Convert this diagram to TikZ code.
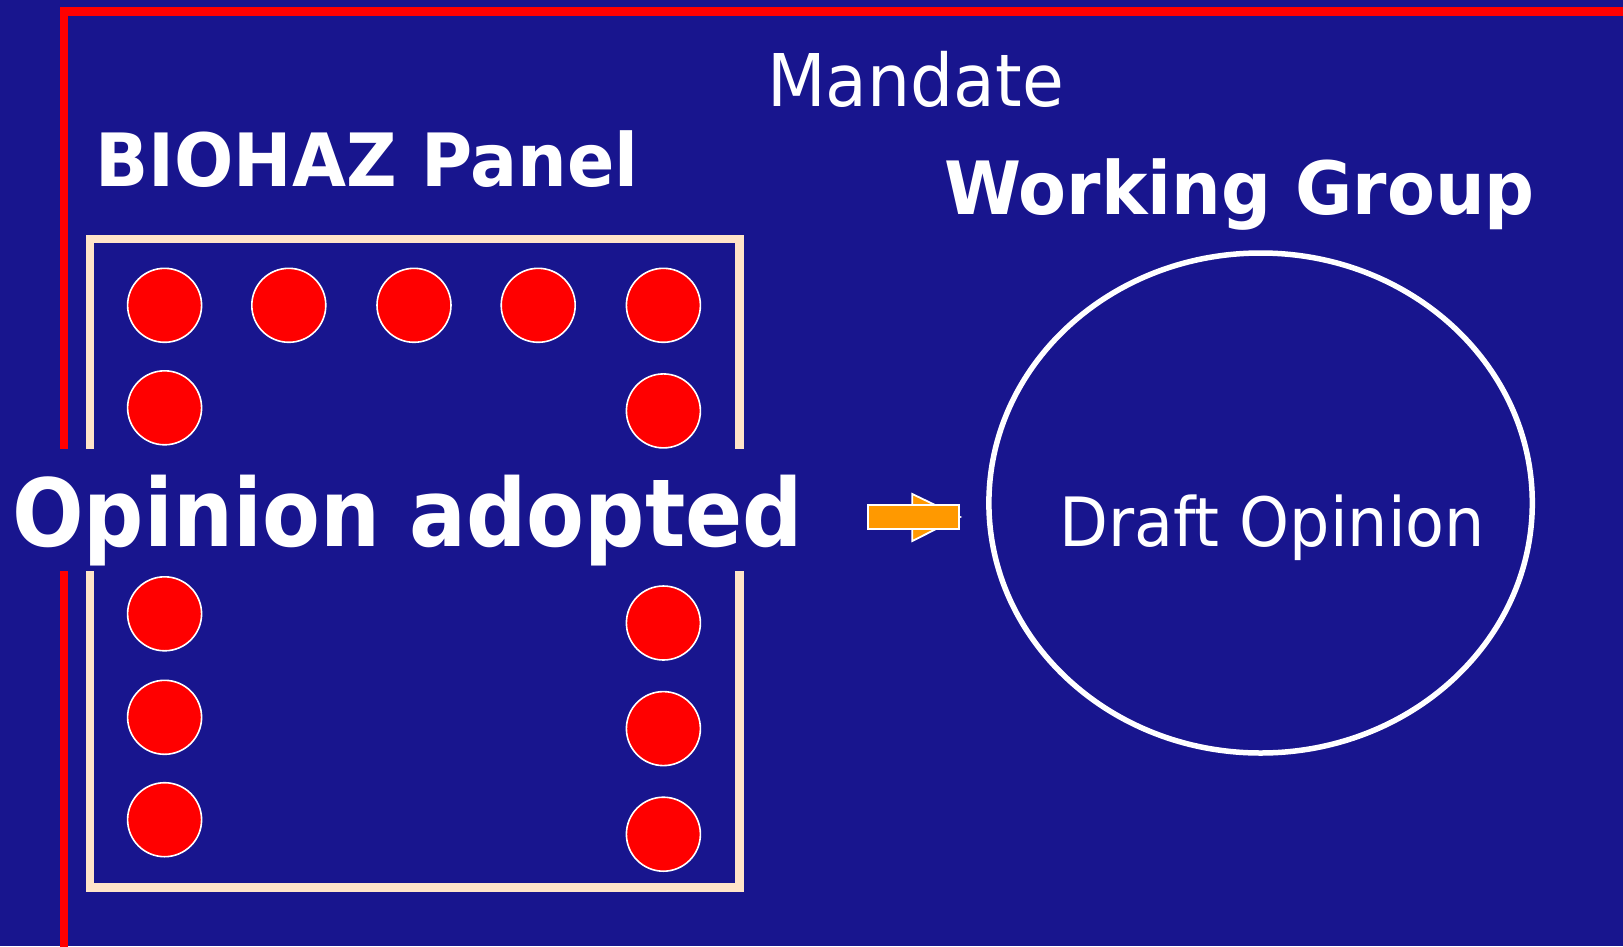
\documentclass[tikz,border=0pt]{standalone}
\usepackage{fontspec}
\setmainfont{DejaVu Sans}[FakeStretch=0.897]
\newfontfamily\headface{DejaVu Sans}[FakeStretch=0.95]
\newfontfamily\textface{DejaVu Sans}[FakeStretch=0.935]
\usetikzlibrary{shapes.geometric}
\definecolor{slide}{RGB}{24,21,142}
\definecolor{frame}{RGB}{255,0,0}
\definecolor{panelline}{RGB}{255,228,201}
\definecolor{arrowfill}{RGB}{255,153,0}
\tikzset{
  member/.style={circle, fill=frame, draw=white, line width=1.6pt, minimum size=74pt, inner sep=0pt},
  heading/.style={text=white, font=\headface\bfseries\fontsize{73.5}{80}\selectfont, anchor=base west, inner sep=0pt},
  plain/.style={text=white, font=\textface\fontsize{70}{78}\selectfont, anchor=base west, inner sep=0pt},
}
\begin{document}
\begin{tikzpicture}[x=1pt, y=-1pt]
  \useasboundingbox (0,0) rectangle (1623,946);
  \clip (0,0) rectangle (1623,946);
  \fill[slide] (0,0) rectangle (1623,946);

  % outer frame
  \draw[frame, line width=8.5pt] (64,11.5) rectangle (1700,951);

  % panel box
  \draw[panelline, line width=8.8pt] (90,239) rectangle (739.5,887.5);

  % panel members
  \foreach \n/\x/\y in {a/164.6/305.3, b/288.8/305.3, c/414/305.3, d/538.2/305.3, e/663.4/305.3,
                       f/164.6/407.8, g/663.4/410.9,
                       h/164.6/613.8, i/663.4/623, j/164.6/717.3, k/663.4/728.6,
                       l/164.6/819.7, m/663.4/834.2}
    \node[member] (m\n) at (\x,\y) {};

  % band behind the adoption label
  \fill[slide] (0,449) rectangle (812,571);

  \node[plain, font=\textface\fontsize{72.7}{80}\selectfont] (mandate) at (767,106.5) {Mandate};
  \node[heading] (panel) at (95,186) {BIOHAZ Panel};
  \node[heading] (wg) at (944,214) {Working Group};
  \node[heading, font=\bfseries\fontsize{94}{100}\selectfont] (adopted) at (12,546.5) {Opinion adopted};

  % working group
  \node[ellipse, draw=white, line width=5.5pt, minimum width=543.4pt, minimum height=500pt, inner sep=0pt] (group) at (1260.6,503) {};
  \node[plain, font=\textface\fontsize{68}{76}\selectfont] (draft) at (1059,546.5) {Draft Opinion};

  % block arrow
  \filldraw[fill=arrowfill, draw=white, line width=1.8pt] (912.3,494) -- (960,517) -- (912.3,541) -- cycle;
  \filldraw[fill=arrowfill, draw=white, line width=1.8pt] (867.7,505) rectangle (959,529.3);
\end{tikzpicture}
\end{document}
